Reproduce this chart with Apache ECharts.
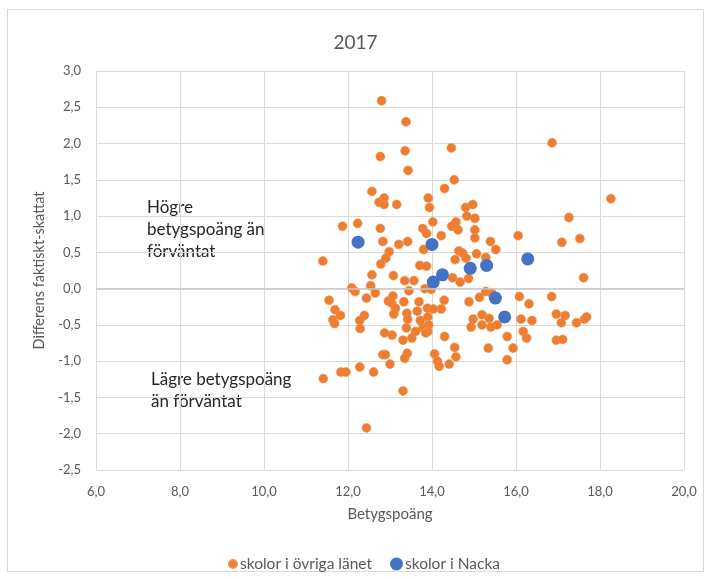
<!DOCTYPE html>
<html>
<head>
<meta charset="utf-8">
<title>2017</title>
<script src="https://cdn.jsdelivr.net/npm/echarts@6/dist/echarts.min.js"></script>
<style>
  html, body { margin: 0; padding: 0; background: #fff; }
  .frame { position: absolute; left: 7px; top: 9px; width: 697px; height: 563px; border: 1px solid #d9d9d9; box-sizing: border-box; }
  #main { position: absolute; left: 0; top: 0; width: 711px; height: 579px; }
</style>
</head>
<body>
<div class="frame"></div>
<div id="main"></div>
<script>
  // Betygspoäng, differens faktiskt-skattat
  var ovrigaPoints = [
    [12.80, 2.59], [13.38, 2.30], [13.36, 1.90], [14.46, 1.94], [12.77, 1.82], [13.43, 1.63],
    [14.53, 1.50], [14.30, 1.38], [12.57, 1.34], [12.86, 1.25], [12.74, 1.19], [12.86, 1.16],
    [13.16, 1.16], [13.91, 1.25], [13.94, 1.12], [14.80, 1.12], [14.97, 1.16], [14.83, 1.00],
    [15.02, 0.97], [14.02, 0.92], [14.57, 0.92], [14.47, 0.86], [14.62, 0.81], [15.02, 0.81],
    [15.02, 0.70], [11.87, 0.86], [12.23, 0.90], [12.77, 0.83], [13.78, 0.83], [13.87, 0.76],
    [14.22, 0.73], [12.83, 0.65], [13.21, 0.61], [13.42, 0.65], [15.39, 0.65], [15.52, 0.54],
    [13.80, 0.54], [12.98, 0.51], [12.90, 0.42], [12.78, 0.34], [14.64, 0.52], [14.73, 0.49],
    [15.06, 0.48], [14.55, 0.40], [14.81, 0.42], [11.40, 0.38], [13.71, 0.32], [13.87, 0.31],
    [12.57, 0.19], [13.08, 0.18], [14.49, 0.15], [14.87, 0.14], [13.35, 0.11], [13.57, 0.11],
    [14.67, 0.09], [12.54, 0.04], [12.09, 0.01], [12.17, -0.04], [12.65, -0.06], [13.45, -0.03],
    [13.83, 0.00], [13.98, -0.01], [15.28, 0.43],
    [11.55, -0.16], [11.69, -0.29], [11.82, -0.37], [11.64, -0.43], [11.68, -0.48], [12.44, -0.13],
    [12.28, -0.44], [12.39, -0.37], [12.29, -0.55], [12.96, -0.17], [13.07, -0.10], [13.04, -0.20],
    [13.13, -0.27], [13.09, -0.35], [13.33, -0.18], [13.69, -0.18], [13.40, -0.34], [13.65, -0.31],
    [13.42, -0.42], [13.72, -0.44], [13.89, -0.27], [14.03, -0.28], [14.22, -0.28], [14.29, -0.16],
    [13.90, -0.39], [13.92, -0.50], [13.79, -0.54], [13.90, -0.59], [13.85, -0.61], [13.61, -0.59],
    [13.39, -0.54], [12.87, -0.61], [13.05, -0.64], [13.31, -0.71], [13.52, -0.68], [14.30, -0.66],
    [14.54, -0.81], [14.57, -0.94], [12.83, -0.91], [12.89, -0.91], [13.41, -0.89], [13.35, -0.96],
    [13.00, -1.04], [14.06, -0.90], [14.13, -1.00], [14.17, -1.07], [14.41, -1.04], [12.28, -1.08],
    [11.83, -1.15], [11.95, -1.15], [12.61, -1.15], [11.41, -1.24], [13.31, -1.41], [12.44, -1.92],
    [14.88, -0.18], [15.13, -0.12], [15.28, -0.04], [14.98, -0.42], [15.34, -0.82], [14.93, -0.53],
    [17.61, 0.15], [16.08, -0.11], [16.31, -0.21], [16.85, -0.11], [16.96, -0.35], [17.17, -0.37],
    [17.08, -0.47], [17.44, -0.47], [17.63, -0.42], [17.68, -0.39], [16.12, -0.42], [16.38, -0.44],
    [16.17, -0.59], [16.25, -0.68], [16.96, -0.71], [17.11, -0.70], [15.79, -0.66], [15.93, -0.82],
    [15.79, -0.98], [15.19, -0.36], [15.36, -0.41], [15.55, -0.50], [15.40, -0.53], [15.19, -0.50],
    [15.42, -0.06],
    [16.86, 2.01], [18.26, 1.24], [17.26, 0.98], [17.09, 0.64], [17.52, 0.69], [16.05, 0.73]
  ]
  var nackaPoints = [
    [12.24, 0.64], [14.00, 0.61], [14.91, 0.28], [15.30, 0.32], [14.25, 0.19],
    [14.03, 0.09], [15.51, -0.13], [15.73, -0.39], [16.28, 0.41]
  ]
  var seriesNames = ['skolor i övriga länet', 'skolor i Nacka']

  var font = 'Lato, "Open Sans", sans-serif'
  var grey = '#595959'

  function comma (v) {
    return v.toFixed(1).replace('.', ',')
  }

  var myChart = echarts.init(document.getElementById('main'))
  var option = {
    animation: false,
    textStyle: { fontFamily: font },
    title: {
      text: '2017',
      left: 'center',
      top: 28,
      textStyle: { fontSize: 19, fontWeight: 'normal', color: grey, fontFamily: font }
    },
    legend: [
      {
        data: [seriesNames[0]],
        icon: 'circle',
        itemWidth: 8,
        itemHeight: 8,
        itemGap: 4,
        left: 223,
        top: 551,
        textStyle: { fontSize: 15.5, color: grey, fontFamily: font, padding: [0, 0, 0, -2] }
      },
      {
        data: [seriesNames[1]],
        icon: 'circle',
        itemWidth: 13,
        itemHeight: 13,
        left: 385,
        top: 551,
        textStyle: { fontSize: 15.5, color: grey, fontFamily: font, padding: [0, 0, 0, -3] }
      }
    ],
    grid: {
      left: 96,
      right: 27,
      top: 71,
      bottom: 109
    },
    xAxis: {
      type: 'value',
      min: 6,
      max: 20,
      interval: 2,
      name: 'Betygspoäng',
      nameLocation: 'middle',
      nameGap: 37,
      nameTextStyle: { fontSize: 15, color: grey, fontFamily: font },
      axisLine: { show: false },
      axisTick: { show: false },
      axisLabel: { formatter: comma, fontSize: 13, color: grey, margin: 15, fontFamily: font },
      splitLine: { lineStyle: { color: '#d9d9d9', width: 1 } }
    },
    yAxis: {
      type: 'value',
      min: -2.5,
      max: 3,
      interval: 0.5,
      name: 'Differens faktiskt-skattat',
      nameLocation: 'middle',
      nameGap: 48,
      nameTextStyle: { fontSize: 14.5, color: grey, fontFamily: font },
      axisLine: { show: false },
      axisTick: { show: false },
      axisLabel: { formatter: comma, fontSize: 13, color: grey, margin: 15, fontFamily: font },
      splitLine: { lineStyle: { color: '#d9d9d9', width: 1 } }
    },
    graphic: [
      {
        type: 'text',
        left: 147,
        top: 197,
        style: {
          text: 'Högre\nbetygspoäng än\nförväntat',
          fontSize: 17,
          lineHeight: 22,
          fill: '#262626',
          fontFamily: font
        }
      },
      {
        type: 'text',
        left: 151,
        top: 369,
        style: {
          text: 'Lägre betygspoäng\nän förväntat',
          fontSize: 17,
          lineHeight: 22,
          fill: '#262626',
          fontFamily: font
        }
      }
    ],
    series: [
      {
        name: seriesNames[0],
        type: 'scatter',
        symbolSize: 9,
        itemStyle: { color: '#ED7D31', opacity: 1, borderColor: '#f0914f', borderWidth: 0.6 },
        data: ovrigaPoints,
        markLine: {
          silent: true,
          symbol: 'none',
          label: { show: false },
          lineStyle: { color: '#c8c8c8', width: 1.5, type: 'solid' },
          data: [{ yAxis: 0 }]
        }
      },
      {
        name: seriesNames[1],
        type: 'scatter',
        symbolSize: 13,
        itemStyle: { color: '#4472C4', opacity: 1 },
        data: nackaPoints
      }
    ]
  }
  myChart.setOption(option)
</script>
</body>
</html>
